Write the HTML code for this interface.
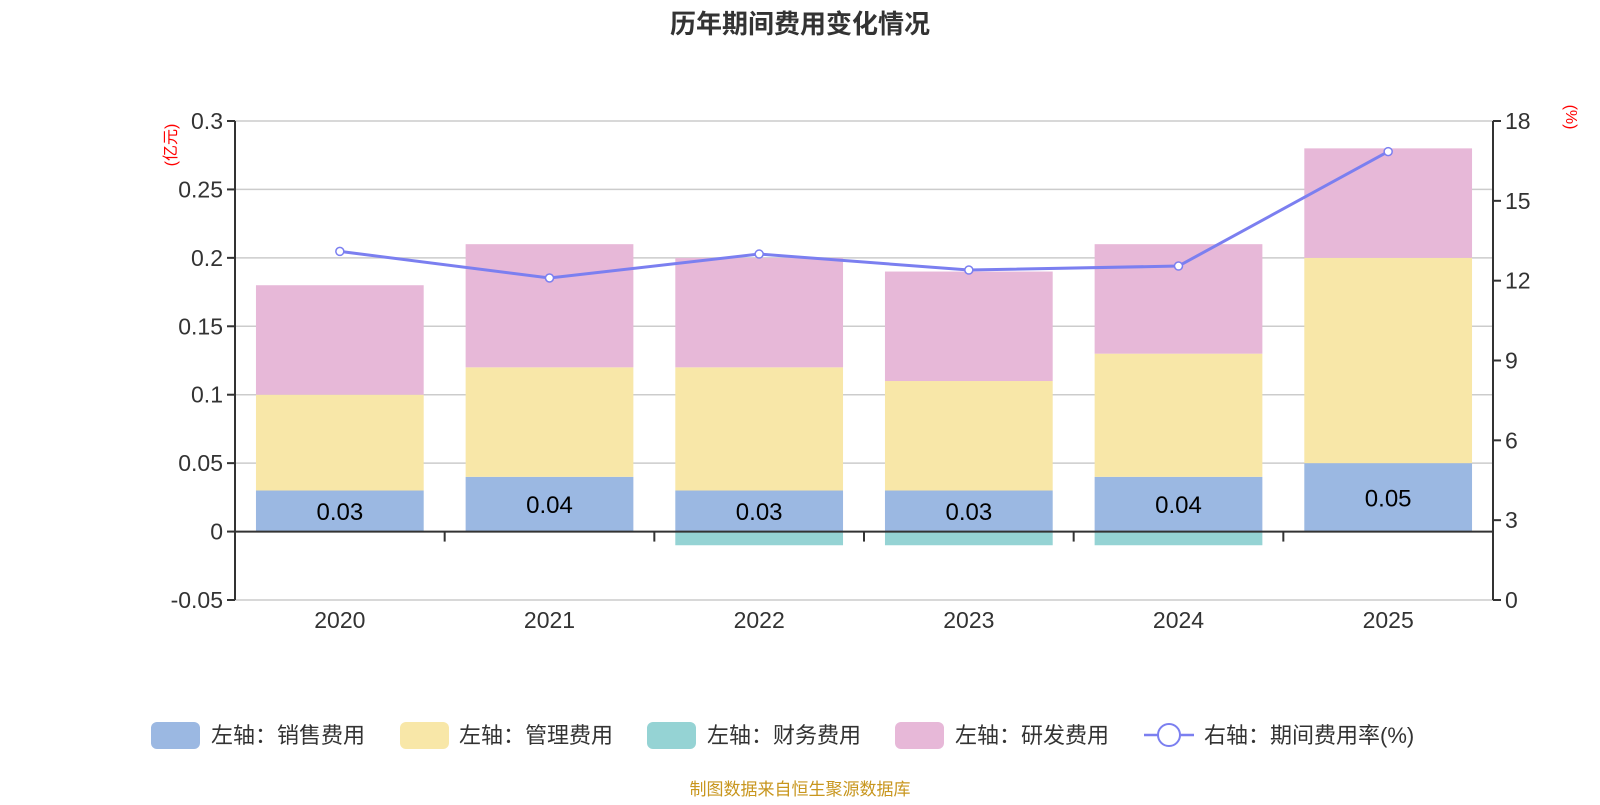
<!DOCTYPE html>
<html><head><meta charset="utf-8"><style>
body{margin:0;background:#fff;font-family:"Liberation Sans","Noto Sans CJK SC",sans-serif;}
svg text{font-family:"Liberation Sans","Noto Sans CJK SC",sans-serif;}
</style></head><body>
<svg id="c" width="1600" height="800" xmlns="http://www.w3.org/2000/svg">
<text x="800" y="33" text-anchor="middle" font-size="26" font-weight="bold" fill="#333">历年期间费用变化情况</text>
<text transform="translate(176,145) rotate(-90)" text-anchor="middle" font-size="16" fill="#f00">(亿元)</text>
<text transform="translate(1566,117) rotate(90)" text-anchor="middle" font-size="16" fill="#f00">(%)</text>
<g id="grid"></g><g id="bars"></g><g id="axes"></g><g id="line"></g>
<g font-size="22" fill="#333">
<rect x="151" y="722" width="49" height="27" rx="6" fill="#9bb8e2"/>
<text x="211" y="743">左轴：销售费用</text>
<rect x="400" y="722" width="49" height="27" rx="6" fill="#f8e7a8"/>
<text x="459" y="743">左轴：管理费用</text>
<rect x="647" y="722" width="49" height="27" rx="6" fill="#95d3d4"/>
<text x="707" y="743">左轴：财务费用</text>
<rect x="895" y="722" width="49" height="27" rx="6" fill="#e7b8d8"/>
<text x="955" y="743">左轴：研发费用</text>
<line x1="1144" y1="735" x2="1194" y2="735" stroke="#7b7ff0" stroke-width="2.5"/>
<circle cx="1169" cy="735" r="11" fill="#fff" stroke="#7b7ff0" stroke-width="2"/>
<text x="1204" y="743">右轴：期间费用率(%)</text>
</g>
<text x="800" y="795" text-anchor="middle" font-size="17" fill="#c8961e">制图数据来自恒生聚源数据库</text>
</svg>
<script>
const categories=["2020","2021","2022","2023","2024","2025"];
const sales=[0.03,0.04,0.03,0.03,0.04,0.05];
const admin=[0.07,0.08,0.09,0.08,0.09,0.15];
const finance=[0,0,-0.01,-0.01,-0.01,0];
const rd=[0.08,0.09,0.08,0.08,0.08,0.08];
const rate=[13.1,12.1,13.0,12.4,12.55,16.85];
const leftTicks=[-0.05,0,0.05,0.1,0.15,0.2,0.25,0.3];
const rightTicks=[0,3,6,9,12,15,18];
const L=235,R=1493,T=121,B=600;
const yL=v=>T+(0.3-v)/0.35*(B-T);
const yR=v=>B-v/18*(B-T);
const band=(R-L)/categories.length;
const xC=i=>L+band*(i+0.5);
const NS="http://www.w3.org/2000/svg";
function mk(tag,attrs,parent,txt){const e=document.createElementNS(NS,tag);for(const k in attrs)e.setAttribute(k,attrs[k]);if(txt!==undefined)e.textContent=txt;document.getElementById(parent).appendChild(e);return e;}
leftTicks.forEach(t=>{
 if(t!==0){const g=mk('line',{x1:L,x2:R,y1:yL(t),y2:yL(t),stroke:'#ccc','stroke-width':1.5},'grid');
 
 }
 const tk=mk('line',{x1:L-8,x2:L,y1:yL(t),y2:yL(t),stroke:'#333','stroke-width':2},'axes');
 
 
 const lb=mk('text',{x:L-12,y:yL(t)+8,'text-anchor':'end','font-size':23,fill:'#333'},'axes',String(t));
 
 
});
rightTicks.forEach(t=>{
 const tk=mk('line',{x1:R,x2:R+8,y1:yR(t),y2:yR(t),stroke:'#333','stroke-width':2},'axes');
 
 
 const lb=mk('text',{x:R+12,y:yR(t)+8,'font-size':23,fill:'#333'},'axes',String(t));
 
 
});
const bw=band*0.8;
categories.forEach((c,i)=>{
 const x0=L+band*i+band*0.1;
 let base=0;
 [[sales,'#9bb8e2','bar-sales'],[admin,'#f8e7a8','bar-admin'],[rd,'#e7b8d8','bar-rd']].forEach(([arr,col,nm])=>{
  const v=arr[i];const r=mk('rect',{x:x0,y:yL(base+v),width:bw,height:yL(base)-yL(base+v),fill:col},'bars');
  
  
  base+=v;
 });
 if(finance[i]<0){const r=mk('rect',{x:x0,y:yL(0),width:bw,height:yL(finance[i])-yL(0),fill:'#95d3d4'},'bars');
  
  }
 const t=mk('text',{x:x0+bw/2,y:(yL(0)+yL(sales[i]))/2+9,'text-anchor':'middle','font-size':24,fill:'#000'},'bars',sales[i].toFixed(2));
 
 
 const xl=mk('text',{x:xC(i),y:628,'text-anchor':'middle','font-size':23,fill:'#333'},'axes',c);
 
 
});
for(let i=1;i<categories.length;i++){const tk=mk('line',{x1:L+band*i,x2:L+band*i,y1:yL(0),y2:yL(0)+10,stroke:'#333','stroke-width':2},'axes');
 
 }
let a=mk('line',{x1:L,x2:R,y1:yL(0),y2:yL(0),stroke:'#333','stroke-width':2},'axes');


a=mk('line',{x1:L,x2:L,y1:T,y2:B,stroke:'#333','stroke-width':2},'axes');


a=mk('line',{x1:R,x2:R,y1:T,y2:B,stroke:'#333','stroke-width':2},'axes');


const pl=mk('polyline',{points:rate.map((v,i)=>xC(i)+','+yR(v)).join(' '),fill:'none',stroke:'#7b7ff0','stroke-width':3},'line');


rate.forEach((v,i)=>{const p=mk('circle',{cx:xC(i),cy:yR(v),r:4,fill:'#fff',stroke:'#7b7ff0','stroke-width':1.5},'line');
 
 });
</script>
</body></html>
